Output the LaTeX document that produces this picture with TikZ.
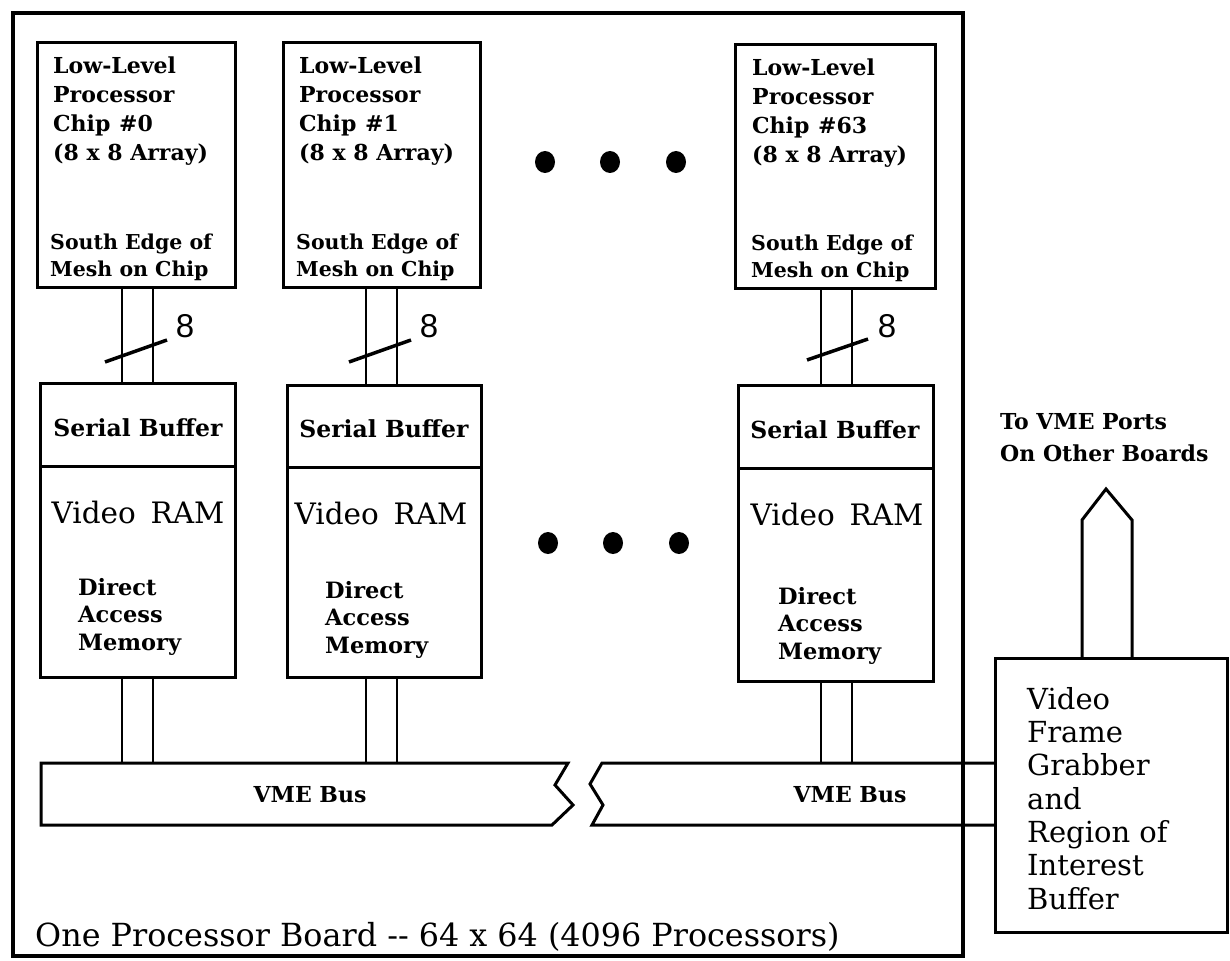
\documentclass[tikz,border=0pt]{standalone}
\usepackage{fontspec}
\setmainfont{DejaVu Serif}
\newfontfamily\eightfont{Liberation Sans}
\usetikzlibrary{shapes.geometric}
\begin{document}
\begin{tikzpicture}[x=1pt,y=-1pt,line join=miter,
 box/.style={draw,line width=3pt,inner sep=0pt,outer sep=0pt,anchor=north west},
 wire/.style={line width=2.6pt},
 busline/.style={line width=3pt},
 slash/.style={line width=3.5pt},
 chiptxt/.style={anchor=north west,align=left,inner sep=0pt,font=\bfseries\fontsize{22}{29}\selectfont},
 edgetxt/.style={anchor=north west,align=left,inner sep=0pt,font=\bfseries\fontsize{20.5}{27}\selectfont},
 memtxt/.style={anchor=north west,align=left,inner sep=0pt,font=\bfseries\fontsize{22.5}{27.5}\selectfont},
 uptxt/.style={anchor=north west,align=left,inner sep=0pt,font=\bfseries\fontsize{22}{32}\selectfont},
 grabtxt/.style={anchor=north west,align=left,inner sep=0pt,font=\fontsize{29}{33.3}\selectfont},
 sertxt/.style={inner sep=0pt,font=\bfseries\fontsize{23.5}{28}\selectfont},
 vramtxt/.style={inner sep=0pt,font=\fontsize{29.5}{32}\selectfont},
 bustxt/.style={inner sep=0pt,font=\bfseries\fontsize{22}{28}\selectfont},
 eight/.style={inner sep=0pt,font=\eightfont\fontsize{33}{36}\selectfont},
 dot/.style={ellipse,fill,inner sep=0pt,minimum width=20pt,minimum height=22pt},
]
\useasboundingbox (0,0) rectangle (1230,960);
% board
\node[box,line width=4.5pt,minimum width=950pt,minimum height=943pt] (board) at (13,13) {};
% chips
\node[box,minimum width=198pt,minimum height=244pt] (c0) at (37,43) {};
\node[box,minimum width=197pt,minimum height=244pt] (c1) at (283,43) {};
\node[box,minimum width=200pt,minimum height=243pt] (c63) at (735,45) {};
\node[chiptxt] (t0a) at (53,57) {Low-Level\\Processor\\Chip\hspace{0.4em}\#0\\(8 x 8 Array)};
\node[edgetxt] (t0b) at (50,234) {South Edge of\\Mesh on Chip};
\node[chiptxt] (t1a) at (299,57) {Low-Level\\Processor\\Chip\hspace{0.4em}\#1\\(8 x 8 Array)};
\node[edgetxt] (t1b) at (296,234) {South Edge of\\Mesh on Chip};
\node[chiptxt] (t63a) at (752,59) {Low-Level\\Processor\\Chip\hspace{0.4em}\#63\\(8 x 8 Array)};
\node[edgetxt] (t63b) at (751,235) {South Edge of\\Mesh on Chip};
% serial buffer / video RAM boxes
\node[box,minimum width=195pt,minimum height=294pt] (s0) at (40,383) {};
\node[box,minimum width=194pt,minimum height=292pt] (s1) at (287,385) {};
\node[box,minimum width=195pt,minimum height=296pt] (s63) at (738,385) {};
\draw[line width=3pt] ([yshift=-83pt]s0.north west) -- ([yshift=-83pt]s0.north east);
\draw[line width=3pt] ([yshift=-82pt]s1.north west) -- ([yshift=-82pt]s1.north east);
\draw[line width=3pt] ([yshift=-83pt]s63.north west) -- ([yshift=-83pt]s63.north east);
\node[sertxt] (sb0) at (138,428) {Serial Buffer};
\node[sertxt] (sb1) at (384,429) {Serial Buffer};
\node[sertxt] (sb63) at (835,430) {Serial Buffer};
\node[vramtxt] (vr0) at (138,512) {Video\hspace{0.5em}RAM};
\node[vramtxt] (vr1) at (381,513) {Video\hspace{0.5em}RAM};
\node[vramtxt] (vr63) at (837,514) {Video\hspace{0.5em}RAM};
\node[memtxt] (m0) at (78,578) {Direct\\Access\\Memory};
\node[memtxt] (m1) at (325,581) {Direct\\Access\\Memory};
\node[memtxt] (m63) at (778,587) {Direct\\Access\\Memory};
% wire x positions
\coordinate (w0a) at (122,0); \coordinate (w0b) at (153,0);
\coordinate (w1a) at (366,0); \coordinate (w1b) at (397,0);
\coordinate (w63a) at (821,0); \coordinate (w63b) at (852,0);
\coordinate (bt) at (0,763); \coordinate (bb) at (0,825);
% chip -> serial buffer wires, serial buffer -> bus wires
\foreach \c/\s/\a/\b in {c0/s0/w0a/w0b, c1/s1/w1a/w1b, c63/s63/w63a/w63b}{
  \draw[wire] (\c.south -| \a) -- (\s.north -| \a);
  \draw[wire] (\c.south -| \b) -- (\s.north -| \b);
  \draw[wire] (\s.south -| \a) -- (bt -| \a);
  \draw[wire] (\s.south -| \b) -- (bt -| \b);
}
% bus-width slashes
\draw[slash] (105,362) -- (167,340);
\draw[slash] (349,362) -- (411,340);
\draw[slash] (807,360) -- (868,339);
\node[eight] (e0) at (185,326) {8};
\node[eight] (e1) at (429,326) {8};
\node[eight] (e63) at (887,326) {8};
% dots
\node[dot] (d1) at (545,162) {};
\node[dot] (d2) at (610,162) {};
\node[dot] (d3) at (676,162) {};
\node[dot] (d4) at (548,543) {};
\node[dot] (d5) at (613,543) {};
\node[dot] (d6) at (679,543) {};
% frame grabber
\node[box,minimum width=232pt,minimum height=274pt] (grab) at (995,658) {};
\node[grabtxt] (gt) at (1027,687) {Video\\Frame\\Grabber\\and\\Region of\\Interest\\Buffer};
% VME bus
\draw[busline] (41,763) -- (568,763) -- (555,785) -- (573,805) -- (552,825) -- (41,825) -- cycle;
\draw[busline] (grab.west |- bt) -- (602,763) -- (590,784) -- (603,805) -- (592,825) -- (grab.west |- bb);
\node[bustxt] (bus1) at (310,795) {VME Bus};
\node[bustxt] (bus2) at (850,795) {VME Bus};
% arrow to other boards
\coordinate (a1) at (1082,520); \coordinate (tip) at (1106,489); \coordinate (a2) at (1132,520);
\draw[line width=3pt] (a1 |- grab.north) -- (a1) -- (tip) -- (a2) -- (a2 |- grab.north);
\node[uptxt] (up) at (1000,413) {To VME Ports\\On Other Boards};
% board title
\node[anchor=base west,inner sep=0pt,font=\fontsize{31.8}{36}\selectfont] (title) at (35,946) {One Processor Board -{}- 64 x 64 (4096 Processors)};
\end{tikzpicture}
\end{document}
